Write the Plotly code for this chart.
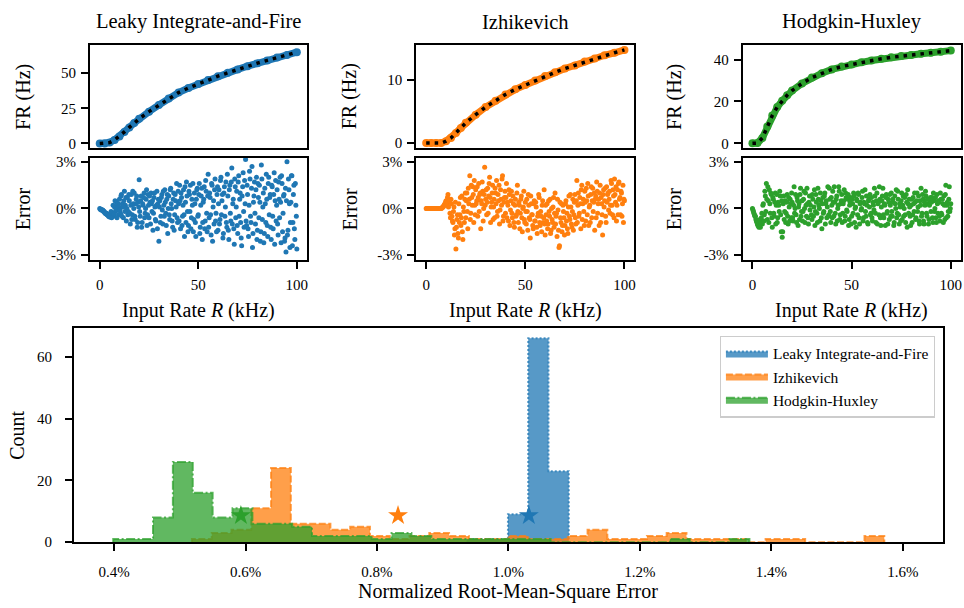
import plotly.graph_objects as go

# ---------------- data ----------------
MODELS = ["Leaky Integrate-and-Fire", "Izhikevich", "Hodgkin-Huxley"]
COLORS = ["#1f77b4", "#ff7f0e", "#2ca02c"]
FILLS = ["rgba(31,119,180,0.75)", "rgba(255,127,14,0.75)", "rgba(44,160,44,0.75)"]

# firing-rate curves (Hz) vs input rate R (kHz)
R_CURVE = [0, 2.5, 5, 7.5, 10, 12.5, 15, 17.5, 20, 25, 30, 35, 40, 45, 50, 55, 60, 65, 70, 75, 80, 85, 90, 95, 100]
FR_LIF = [0, 0, 0.6, 2.5, 5.0, 8.2, 11.4, 14.5, 17.5, 22.6, 27.3, 32.0, 36.1, 39.4, 42.3, 45.1, 47.8, 50.2, 52.6, 54.9, 57.0, 59.0, 61.0, 62.9, 64.8]
FR_IZH = [0, 0, 0, 0, 0.3, 0.8, 1.6, 2.4, 3.2, 4.5, 5.7, 6.7, 7.7, 8.5, 9.2, 9.9, 10.6, 11.2, 11.8, 12.3, 12.9, 13.4, 13.9, 14.3, 14.75]
FR_HH = [0, 0.1, 2.5, 8.0, 13.3, 17.3, 20.3, 23.0, 25.2, 28.6, 31.4, 33.5, 35.3, 36.7, 37.7, 38.7, 39.6, 40.4, 41.1, 41.7, 42.2, 42.8, 43.3, 43.8, 44.3]

# relative error (%): set A sampled at R = 0, 0.5, ..., 100; set B at R = 0.25, 0.75, ..., 99.75
R_ERR_A = [i * 0.5 for i in range(201)]
R_ERR_B = [0.25 + i * 0.5 for i in range(200)]
ERR_LIF_A = [
    0.0, -0.05, -0.1, -0.1, -0.2, -0.25, -0.3, -0.3, -0.4, -0.5,
    -0.55, -0.45, -0.6, -0.3, -0.5, 0.1, -0.2, 0.4, 0.2, -0.4,
    0.6, -0.3, 0.9, 0.3, -0.6, 1.1, 0.2, -0.8, 0.7, -0.2,
    0.5, -1.0, 0.9, -0.4, 0.3, 1.0, -0.7, 0.6, -1.2, 0.4,
    1.85, -0.5, 0.8, -0.9, 0.2, 1.0, -0.3, 0.6, -1.1, 0.9,
    -0.6, 0.4, 1.0, -0.2, -1.4, 0.7, 0.1, -0.8, 1.1, 0.3,
    -2.1, 0.5, -0.5, 0.9, -1.0, 0.2, 1.2, -0.3, 0.6, -1.6,
    0.8, -0.7, 1.3, 0.0, -1.2, 1.0, -0.4, 0.5, 1.6, -0.9,
    0.3, 1.5, -1.3, 0.7, -0.5, 1.2, -1.8, 0.4, 1.7, -0.2,
    -1.1, 0.9, 1.5, -0.6, 0.2, -1.5, 1.0, -0.9, 0.6, 1.3,
    -0.4, 1.6, -1.2, 0.8, -2.0, 0.4, 1.4, -0.8, 1.1, -1.5,
    2.2, -0.6, 0.7, -1.7, 1.5, 0.1, -1.0, 1.9, -0.3, 0.9,
    -1.4, 1.2, -0.7, 2.0, 0.5, -1.9, 1.0, -0.5, 1.7, -1.2,
    0.8, -2.0, 1.5, -0.8, 2.6, 0.3, -1.3, 1.9, -0.6, 1.1,
    -1.6, 2.1, 0.6, -0.9, -2.4, 1.4, -0.2, 1.8, 3.15, -1.1,
    0.9, -1.8, 2.4, -0.5, 1.3, -2.5, 0.4, 1.7, -1.0, 2.0,
    -1.4, 0.7, 1.5, -2.1, 2.8, -0.7, 1.0, -1.6, 0.3, 2.2,
    -1.1, 1.6, -0.4, 0.9, -2.0, 1.4, -1.3, 2.3, 0.5, -0.8,
    1.2, -1.7, 0.6, 2.0, -2.2, 1.6, -0.3, 0.9, -1.9, -2.8,
    3.0, -1.4, 1.2, -2.5, 0.4, 2.1, -0.9, 1.5, -2.0, 0.2,
    -2.6,
]
ERR_LIF_B = [
    -0.05, -0.1, -0.1, -0.15, -0.2, -0.3, -0.35, -0.4, -0.45, -0.5,
    -0.5, -0.2, -0.55, 0.2, -0.35, 0.5, -0.1, -0.6, 0.3, 0.1,
    -0.1, 0.8, -0.5, 0.1, 0.5, -0.2, 0.7, 0.0, -0.4, 0.9,
    -0.3, 0.2, -0.7, 1.1, 0.0, -0.5, 0.3, 0.8, -0.9, 0.1,
    -0.2, 0.5, -1.2, 0.3, 0.7, -0.6, 0.0, 1.2, -0.4, 0.2,
    0.8, -1.0, 0.3, 0.5, -0.3, 1.0, -0.7, 0.2, -1.3, 0.6,
    0.1, -0.9, 0.7, -0.1, 1.1, -0.5, 0.4, -1.1, 0.9, 0.0,
    -0.4, 1.2, 0.3, -0.8, 0.6, -1.4, 0.9, 0.1, -0.6, 1.1,
    -0.8, 0.5, 1.0, -1.1, 0.2, -0.4, 1.4, -0.9, 0.8, -1.5,
    1.1, -0.2, -1.3, 0.6, 1.6, -0.7, 0.3, -1.8, 1.2, -0.5,
    0.9, -1.6, 0.2, 1.3, -0.9, 0.6, -1.3, 1.8, -0.3, 0.8,
    -1.2, 1.0, -0.4, 1.6, -2.1, 0.5, 1.2, -0.8, -1.5, 1.4,
    0.3, -1.0, 1.8, -0.4, 0.9, -1.6, 1.4, 0.1, -0.9, 2.2,
    -1.4, 1.2, -0.3, 1.7, -1.0, 0.6, -2.3, 1.4, 0.1, -1.1,
    1.7, -0.5, 1.0, -1.9, 0.8, 2.3, -1.2, 0.3, -0.8, 1.5,
    -1.3, 0.2, 1.9, -0.9, 2.7, -1.6, 0.8, -0.3, 1.2, -2.0,
    1.6, -0.6, 0.4, -1.5, 1.9, 0.1, -2.2, 1.3, -0.9, 0.6,
    -1.8, 2.0, 0.7, -1.2, 1.5, -0.5, 0.9, -2.3, 1.8, 0.2,
    -1.0, 1.7, -0.6, 0.4, 2.1, -1.5, 0.8, -2.1, 1.3, 0.5,
    -1.7, 1.9, 0.3, -0.9, 2.1, -2.4, 0.9, -1.3, 1.6, -0.5,
]
ERR_IZH_A = [
    0, 0, 0, 0, 0, 0, 0, 0, 0, 0,
    0, 0, 0, 0, 0, 0, 0.05, 0.1, 0.2, 0.3,
    0.5, 0.2, 0.9, 0.4, -0.3, 0.6, -0.5, -0.9, 0.1, -1.3,
    -2.6, -0.7, -1.6, 0.3, -0.4, -1.1, 0.8, -2.0, -0.2, 0.6,
    -0.6, 1.0, -1.3, 0.3, 2.1, -0.3, 0.7, 1.4, -0.9, 0.2,
    1.2, 0.5, -0.5, 1.6, 0.9, -1.3, 0.3, 1.1, 0.0, 2.65,
    0.6, -0.4, 1.3, 0.8, 2.0, -0.9, 0.4, 1.5, 0.1, -0.6,
    1.0, 1.8, -0.2, 0.5, -1.0, 1.2, 0.2, 2.1, -0.5, 0.7,
    -0.3, 1.6, 0.4, -0.8, 0.9, -0.1, 1.1, -0.6, 0.3, -1.2,
    0.6, -0.4, 1.5, -0.9, 0.2, -0.3, 0.8, -1.5, 0.1, -0.7,
    0.4, -1.0, -0.2, 0.9, -0.6, -1.9, 0.3, -0.4, -1.3, 0.5,
    -0.8, 0.1, -1.6, -0.3, 0.7, -1.1, -0.5, 0.2, -0.9, 1.2,
    -1.7, -0.4, 0.3, -1.0, -0.2, 0.6, -1.4, -0.7, 0.1, -1.2,
    1.0, -0.5, -1.8, -0.1, -2.5, 0.4, -0.9, -1.5, 0.2, -0.6,
    -1.1, 0.5, -0.3, -1.6, 0.8, -0.7, 0.1, -1.2, 0.6, -0.4,
    0.9, -1.0, 1.8, 0.2, -0.5, 0.7, -1.3, 1.5, 0.3, -0.2,
    1.1, -0.8, 0.5, 1.6, -1.1, 0.2, 0.9, -0.6, 1.3, 0.4,
    -1.4, 0.8, 1.7, -0.3, 0.6, 1.0, -0.9, 0.3, -1.7, 1.2,
    0.5, -0.5, 1.4, 0.9, -0.1, 1.1, 0.2, 1.6, -0.4, 0.8,
    1.9, 0.4, -0.8, 1.2, 1.6, 0.6, -0.4, 1.0, 0.3, -0.9,
    0.5,
]
ERR_IZH_B = [
    0, 0, 0, 0, 0, 0, 0, 0, 0, 0,
    0, 0, 0, 0, 0, 0.02, 0.08, 0.15, 0.25, 0.4,
    0.35, 0.7, 0.1, 0.5, -0.6, 0.3, -0.8, -0.2, -1.7, 0.4,
    -1.2, -0.4, -1.9, -0.9, 0.7, -0.6, -1.5, 0.1, -0.9, 1.0,
    0.5, -0.2, 1.3, 0.6, -0.7, 1.5, 0.2, 0.9, 1.8, -0.4,
    0.3, 1.4, 0.7, -0.2, 1.0, 0.5, 1.7, -0.8, 0.9, 0.2,
    1.2, 0.4, -0.3, 1.6, 0.7, 0.1, 1.0, -0.7, 0.6, 1.3,
    0.3, -0.5, 0.9, 1.5, -0.1, 0.6, 1.9, -0.8, 0.4, 1.1,
    0.7, -0.6, 0.2, 1.2, -1.1, 0.5, -0.3, 0.8, -0.9, 0.2,
    -0.5, 1.0, -0.2, 0.4, -1.3, 0.6, -0.6, 0.0, 1.1, -0.9,
    -0.2, 0.6, -1.4, 0.2, -0.7, 0.8, -0.4, -1.1, 0.3, -0.8,
    0.4, -1.2, -0.5, 0.9, -0.9, -0.2, -1.5, 0.5, -0.6, -1.0,
    0.2, -0.8, -1.3, 0.5, -0.5, -1.6, 0.0, -0.9, 0.7, -0.3,
    -1.0, -0.3, 0.6, -1.4, -2.4, -0.6, 0.3, -1.1, -0.2, -1.7,
    0.3, -0.8, -1.3, 0.1, -0.5, 0.9, -1.0, -0.2, -1.4, 0.4,
    -0.6, 0.5, -0.9, 1.0, -0.3, 0.3, 1.2, -0.7, 0.6, -1.1,
    0.4, 1.3, -0.4, 0.8, 0.1, -0.9, 1.4, 0.5, -0.2, 1.0,
    0.6, -0.6, 1.1, 0.3, -1.1, 1.5, 0.7, -0.4, 0.9, 0.1,
    1.3, -0.9, 0.4, 1.0, 0.6, -0.3, 1.8, 0.2, 1.2, -0.6,
    0.9, 1.4, 0.2, -0.4, 1.7, 0.7, 1.1, -0.5, 1.5, 0.6,
]
ERR_HH_A = [
    0.0, -0.2, -0.4, -0.5, -0.8, -1.0, -1.1, -0.9, -1.2, -0.6,
    -1.0, 0.3, -0.4, 0.8, 1.6, -0.7, 0.5, 1.2, -0.3, 0.9,
    -1.2, 0.6, -0.5, 1.0, 0.2, -0.9, 0.4, -0.2, 0.8, -1.5,
    -1.85, 0.3, -0.7, 0.5, -0.3, 0.9, -1.0, 0.1, 0.6, -0.6,
    0.4, -0.8, 1.4, 0.0, -0.4, 0.7, -1.1, 0.3, 0.9, -0.5,
    0.5, -0.2, 1.1, -0.9, 0.2, 1.3, -0.6, 0.4, -0.1, 0.8,
    -0.7, 0.6, 0.1, -1.1, 0.9, -0.3, 1.3, 0.2, -0.8, 0.5,
    -1.3, 0.7, -0.2, 1.0, 0.3, -0.6, 1.4, -0.4, 0.6, -0.9,
    0.2, 1.1, -0.5, 0.4, -1.0, 0.8, 0.0, 1.4, -0.7, 0.3,
    0.9, -0.3, 0.5, -0.8, 1.0, -0.1, 0.6, -1.1, 0.2, 0.7,
    -0.5, 0.3, 1.0, -0.9, 0.1, 0.6, -0.4, 0.9, -1.0, 0.4,
    0.0, 1.1, -0.6, 0.3, -0.2, 0.8, -0.9, 0.5, 0.1, -0.4,
    0.7, -0.8, 0.2, 1.3, -0.3, 0.5, -1.0, 0.4, 1.4, -0.6,
    0.1, 0.8, -0.4, 0.3, -1.1, 0.9, -0.2, 0.6, -0.7, 0.2,
    1.0, -0.5, 0.4, -0.9, 0.3, 1.2, -0.3, 0.6, -1.0, 0.1,
    0.5, -0.7, 0.8, 0.0, -0.4, 0.9, -1.2, 0.3, 0.6, -0.5,
    0.2, -0.9, 0.7, -0.2, 0.4, -0.6, 1.0, 0.1, -0.8, 0.5,
    1.3, -0.3, 0.6, -1.0, 0.2, 0.8, -0.5, 0.3, -0.7, 0.4,
    -0.2, 0.7, -0.9, 0.5, 0.0, -0.6, 0.9, -0.3, 0.4, -0.8,
    0.6, -0.4, 0.3, 0.8, -0.7, 1.5, 0.2, -0.5, 0.6, -0.2,
    0.3,
]
ERR_HH_B = [
    -0.1, -0.3, -0.5, -0.7, -0.9, -1.1, -1.2, -0.7, -0.9, -0.3,
    0.2, -0.8, 1.1, -0.2, 0.6, 1.4, -0.9, 0.3, 1.0, -0.6,
    0.7, -0.3, 0.4, -1.0, 0.9, -0.6, 0.2, 1.1, -0.4, 0.5,
    -1.5, 0.8, -0.2, -0.9, 0.4, -0.5, 0.7, -0.8, 0.3, 1.0,
    -0.6, 0.2, -0.3, 0.9, -0.9, 0.5, 0.1, -0.7, 1.3, -0.2,
    -0.8, 0.6, 0.0, 1.0, -0.5, 0.3, -1.0, 0.8, 0.2, -0.4,
    0.9, -0.5, 1.2, -0.2, 0.4, -0.9, 0.6, 0.0, 1.0, -0.6,
    0.3, -0.3, 0.8, -1.0, 0.5, 0.1, -0.5, 1.3, -0.2, 0.7,
    -0.6, 0.4, 1.4, -0.3, 0.6, -0.8, 0.2, 1.1, -0.4, 0.5,
    -0.9, 0.3, 1.2, -0.5, 0.7, -0.2, 0.9, -0.7, 0.4, -1.0,
    0.6, -0.3, 0.8, 0.0, -1.2, 0.5, 1.0, -0.6, 0.3, -0.1,
    0.7, -0.8, 0.4, 1.2, -0.5, 0.2, -1.0, 0.6, 0.9, -0.3,
    -0.6, 0.4, -0.1, 0.8, -0.9, 1.0, 0.3, -0.4, 0.6, -1.1,
    0.5, 1.3, -0.6, 0.2, 0.7, -0.3, -1.0, 0.4, 0.9, -0.5,
    -0.2, 0.6, -1.1, 0.8, 0.0, -0.6, 1.1, -0.4, 0.3, -0.8,
    1.0, 0.2, -0.5, 0.7, -0.9, 0.4, 1.2, -0.3, 0.1, -1.1,
    0.6, -0.4, 0.3, 1.0, -0.7, 0.5, -0.2, 0.8, -1.0, 0.2,
    -0.5, 0.9, -0.8, 0.4, 1.1, -0.3, 0.6, -1.0, 0.2, 0.7,
    0.4, -0.6, 1.0, -0.2, 0.7, -0.9, 0.3, 0.5, -0.5, 1.0,
    -0.3, 0.6, -0.9, 0.2, 0.9, -0.6, 0.4, -0.2, 1.4, 0.0,
]

# NRMSE histograms (%): first bin edge, bin width, counts
HIST_START = [0.9375, 0.5185, 0.3988]
HIST_WIDTH = [0.03085, 0.03009, 0.03024]
COUNTS_LIF = [1, 1, 9, 66, 23]
COUNTS_IZH = [1, 3, 4, 11, 24, 6, 6, 4, 5, 2, 1, 2, 3, 2, 1, 1, 2, 1, 1, 2,
              4, 1, 1, 2, 3, 1, 1, 1, 0, 1, 1, 0, 0, 0, 2]
COUNTS_HH = [1, 1, 8, 26, 16, 8, 11, 6, 6, 5, 2, 2, 2, 1, 3, 2, 1, 1, 1, 1,
             1, 1, 0, 0, 0, 0, 0, 0, 1, 0, 0, 1]
MEAN_NRMSE = [1.031, 0.832, 0.593]
STAR_Y = 8.6

FR_TICKS = [[0, 25, 50], [0, 10], [0, 20, 40]]
FR_RANGES = [[-3.3, 69.8], [-0.8, 15.5], [-2.3, 46.9]]
ERR_TICKS = [-3, 0, 3]
ERR_TICKTEXT = ["-3%", "0%", "3%"]
HIST_TICKS = [0.4, 0.6, 0.8, 1.0, 1.2, 1.4, 1.6]
HIST_TICKTEXT = ["0.4%", "0.6%", "0.8%", "1.0%", "1.2%", "1.4%", "1.6%"]

# ---------------- figure ----------------
W, H = 964, 608
FONT = "Liberation Serif"
fig = go.Figure()

def px_x(p):
    return p / W

def px_y(p):
    return 1 - p / H

col_x = [(90, 307), (416.7, 635), (743.3, 961.7)]
fr_y = (42, 147)
er_y = (157, 261)

FR_CURVES = [FR_LIF, FR_IZH, FR_HH]
ERRS_A = [ERR_LIF_A, ERR_IZH_A, ERR_HH_A]
ERRS_B = [ERR_LIF_B, ERR_IZH_B, ERR_HH_B]

axis_common = dict(showline=True, linecolor="black", linewidth=1.8, mirror=True,
                   showgrid=False, zeroline=False, ticks="outside", ticklen=7,
                   tickwidth=1.6, tickcolor="black",
                   tickfont=dict(family=FONT, size=15, color="black"))

layout = {}
for i in range(3):
    xa_fr = 2 * i + 1
    xa_er = 2 * i + 2
    xname_fr = "x" if xa_fr == 1 else f"x{xa_fr}"
    yname_fr = "y" if xa_fr == 1 else f"y{xa_fr}"
    xname_er = f"x{xa_er}"
    yname_er = f"y{xa_er}"
    # FR panel
    fig.add_trace(go.Scatter(x=R_CURVE, y=FR_CURVES[i], mode="lines+markers",
                             line=dict(color=COLORS[i], width=7),
                             marker=dict(color=COLORS[i], size=8),
                             showlegend=False, xaxis=xname_fr, yaxis=yname_fr))
    fig.add_trace(go.Scatter(x=R_CURVE, y=FR_CURVES[i], mode="lines",
                             line=dict(color="black", width=3.5, dash="3.5px,5px"),
                             showlegend=False, xaxis=xname_fr, yaxis=yname_fr))
    # error panel
    fig.add_trace(go.Scatter(x=R_ERR_A + R_ERR_B, y=ERRS_A[i] + ERRS_B[i], mode="markers",
                             marker=dict(color=COLORS[i], size=5),
                             showlegend=False, xaxis=xname_er, yaxis=yname_er))
    dom_x = [px_x(col_x[i][0]), px_x(col_x[i][1])]
    kx_fr = "xaxis" if xa_fr == 1 else f"xaxis{xa_fr}"
    ky_fr = "yaxis" if xa_fr == 1 else f"yaxis{xa_fr}"
    layout[kx_fr] = dict(axis_common, domain=dom_x, range=[-5, 105], ticks="",
                         showticklabels=False, anchor=yname_fr)
    layout[ky_fr] = dict(axis_common, domain=[px_y(fr_y[1]), px_y(fr_y[0])],
                         range=FR_RANGES[i], tickvals=FR_TICKS[i], anchor=xname_fr,
                         ticklabelstandoff=2)
    layout[f"xaxis{xa_er}"] = dict(axis_common, domain=dom_x, range=[-5, 105],
                                   tickvals=[0, 50, 100], anchor=yname_er,
                                   ticklabelstandoff=3)
    layout[f"yaxis{xa_er}"] = dict(axis_common, domain=[px_y(er_y[1]), px_y(er_y[0])],
                                   range=[-3.3, 3.25], tickvals=ERR_TICKS,
                                   ticktext=ERR_TICKTEXT, anchor=xname_er,
                                   ticklabelstandoff=2)

# histogram
COUNTS = [COUNTS_LIF, COUNTS_IZH, COUNTS_HH]
DASHES = ["2px,2px", "7px,2.5px", "9px,2.5px,2px,2.5px"]
for i in range(3):
    n = len(COUNTS[i])
    edges = [HIST_START[i] + k * HIST_WIDTH[i] for k in range(n + 1)]
    xs = [edges[0]] + edges + [edges[-1]]
    ys = [0] + COUNTS[i] + [COUNTS[i][-1], 0]
    fig.add_trace(go.Scatter(x=xs, y=ys, mode="lines", line_shape="hv",
                             fill="tozeroy", fillcolor=FILLS[i],
                             line=dict(color=FILLS[i], width=2, dash=DASHES[i]),
                             name=MODELS[i], xaxis="x7", yaxis="y7"))
for i in range(3):
    fig.add_trace(go.Scatter(x=[MEAN_NRMSE[i]], y=[STAR_Y], mode="markers",
                             marker=dict(symbol="star", size=15, color=COLORS[i],
                                         line=dict(width=0)),
                             showlegend=False, xaxis="x7", yaxis="y7"))

layout["xaxis7"] = dict(axis_common, domain=[px_x(74), px_x(944)], range=[0.339, 1.661],
                        tickvals=HIST_TICKS, ticktext=HIST_TICKTEXT, anchor="y7",
                        ticklabelstandoff=8)
layout["yaxis7"] = dict(axis_common, domain=[px_y(549), px_y(330.7)], range=[0, 69.3],
                        tickvals=[0, 20, 40, 60], anchor="x7", ticklabelstandoff=10)

annotations = []
def ann(text, x, y, size=20, angle=0):
    annotations.append(dict(text=text, x=px_x(x), y=px_y(y), xref="paper", yref="paper",
                            showarrow=False, textangle=angle, xanchor="center",
                            yanchor="middle",
                            font=dict(family=FONT, size=size, color="black")))

ylab_x = [23.3, 350, 675]
for i in range(3):
    cx = (col_x[i][0] + col_x[i][1]) / 2
    ann(MODELS[i], cx, 18, size=20.5)
    ann("FR (Hz)", ylab_x[i], (fr_y[0] + fr_y[1]) / 2, angle=-90)
    ann("Error", ylab_x[i], (er_y[0] + er_y[1]) / 2, angle=-90)
    ann("Input Rate <i>R</i> (kHz)", cx, 313)
ann("Count", 17.5, 440, angle=-90)
ann("Normalized Root-Mean-Square Error", 509, 599)

fig.update_layout(
    width=W, height=H, margin=dict(l=0, r=0, t=0, b=0),
    paper_bgcolor="white", plot_bgcolor="white",
    font=dict(family=FONT, size=15, color="black"),
    annotations=annotations,
    legend=dict(x=px_x(935.7), y=px_y(338.3), xanchor="right", yanchor="top",
                bgcolor="rgba(255,255,255,0.8)", bordercolor="#cccccc", borderwidth=1.2,
                itemwidth=42,
                font=dict(family=FONT, size=15.5, color="black"), tracegroupgap=0),
    **layout,
)

fig.write_html("out.html")
